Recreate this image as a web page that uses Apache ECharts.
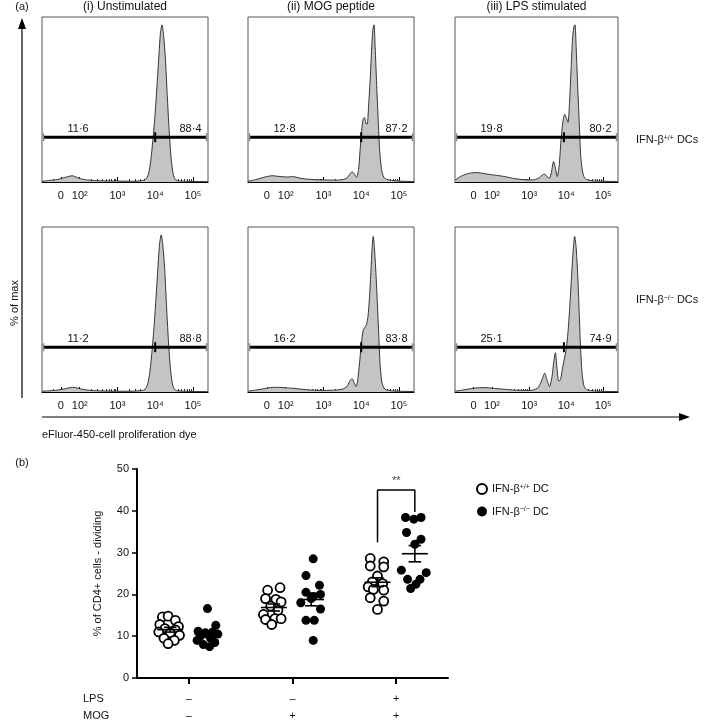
<!DOCTYPE html>
<html><head><meta charset="utf-8">
<script src="https://cdn.jsdelivr.net/npm/echarts@6/dist/echarts.min.js"></script>
<style>html,body{margin:0;padding:0;background:#fff}#c{width:709px;height:724px}</style>
</head><body><div id="c"></div>
<script>
const FONT = 'Liberation Sans, Arial, Helvetica, sans-serif';

// ---------- Panel (a): histogram data ----------
const columnTitles = ['(i) Unstimulated', '(ii) MOG peptide', '(iii) LPS stimulated'];
const histTickValues = [1.5, 2, 3, 4, 5];           // "0", 10^2 ... 10^5 on the display scale
const histTickLabels = ['0', '10²', '10³', '10⁴', '10⁵'];
const minorTickDecades = [1, 2, 3, 4];
const minorTickSteps = [2, 3, 4, 5, 6, 7, 8, 9];

const hist_unstim_wt = [[1.0,0.5],[1.2,1],[1.4,1.5],[1.55,2.5],[1.7,3.5],[1.8,4],[1.9,3.2],[2.0,2.2],[2.2,1.3],[2.4,0.9],[2.7,0.7],[3.0,0.6],[3.3,0.5],[3.6,0.7],[3.74,1.5],[3.82,5],[3.88,13],[3.94,27],[4.0,44],[4.05,62],[4.1,81],[4.14,95],[4.18,100],[4.22,94],[4.27,79],[4.32,55],[4.37,33],[4.42,16],[4.47,6],[4.52,2],[4.6,0.8],[4.8,0.5],[5.0,0.3],[5.4,0.2]];
const hist_mog_wt = [[1.0,0.5],[1.2,1.5],[1.35,2.5],[1.5,3.5],[1.65,4],[1.8,3.6],[2.0,3.2],[2.2,3.4],[2.35,2.6],[2.5,2.0],[2.7,1.6],[3.0,1.3],[3.3,1.2],[3.5,1.5],[3.62,2.5],[3.7,5],[3.76,6.5],[3.82,5],[3.88,3],[3.93,8],[3.97,20],[4.01,32],[4.05,40],[4.09,41],[4.13,37],[4.16,37],[4.2,50],[4.24,66],[4.28,86],[4.31,97],[4.34,100],[4.37,86],[4.41,62],[4.45,40],[4.49,20],[4.54,8],[4.6,3],[4.7,1.5],[4.9,0.8],[5.1,0.5],[5.4,0.3]];
const hist_lps_wt = [[1.0,1],[1.15,3.5],[1.3,5],[1.45,5.8],[1.6,6],[1.8,5.3],[2.0,4.6],[2.2,4],[2.4,3.2],[2.6,2.2],[2.8,1.6],[3.0,1.3],[3.15,1.5],[3.28,2.8],[3.36,4.5],[3.42,5],[3.48,3.5],[3.55,2.5],[3.6,6],[3.66,13],[3.71,9],[3.76,3.5],[3.81,10],[3.86,26],[3.91,38],[3.96,43],[4.0,41],[4.05,38],[4.09,50],[4.13,70],[4.17,90],[4.21,99],[4.24,100],[4.27,86],[4.31,62],[4.35,40],[4.39,18],[4.44,7],[4.5,2.5],[4.6,1.2],[4.8,0.6],[5.1,0.4],[5.4,0.3]];
const hist_unstim_ko = [[1.0,0.5],[1.2,0.8],[1.4,1.2],[1.6,2],[1.75,2.8],[1.85,3],[1.95,2.4],[2.1,1.6],[2.3,1],[2.6,0.7],[3.0,0.5],[3.3,0.5],[3.6,0.8],[3.72,1.5],[3.8,5],[3.86,13],[3.92,27],[3.98,45],[4.03,63],[4.08,82],[4.12,95],[4.16,100],[4.2,94],[4.25,79],[4.3,55],[4.35,33],[4.4,16],[4.45,6],[4.5,2],[4.58,0.8],[4.8,0.5],[5.0,0.3],[5.4,0.2]];
const hist_mog_ko = [[1.0,0.5],[1.2,1.2],[1.4,2],[1.6,2.8],[1.8,3],[2.0,2.6],[2.2,2.4],[2.4,1.8],[2.7,1.2],[3.0,1],[3.3,1.2],[3.5,1.8],[3.62,3.5],[3.7,7],[3.76,8.5],[3.82,5.5],[3.87,3.5],[3.92,10],[3.97,22],[4.02,34],[4.06,40],[4.1,41],[4.14,43],[4.18,48],[4.22,60],[4.26,78],[4.29,92],[4.32,99],[4.35,92],[4.39,76],[4.43,56],[4.47,34],[4.5,18],[4.55,6],[4.62,2],[4.72,1],[5.0,0.5],[5.4,0.3]];
const hist_lps_ko = [[1.0,0.5],[1.2,1.2],[1.4,2],[1.6,2.6],[1.8,2.8],[2.0,2.4],[2.2,2],[2.4,1.6],[2.6,1.2],[2.9,1],[3.1,1.2],[3.25,3],[3.35,8],[3.42,12],[3.48,8],[3.55,3.5],[3.62,10],[3.67,20],[3.71,25],[3.75,16],[3.8,7],[3.85,8],[3.9,15],[3.95,21],[4.0,27],[4.05,38],[4.1,55],[4.15,75],[4.19,90],[4.23,99],[4.27,92],[4.31,76],[4.35,52],[4.39,28],[4.43,12],[4.48,4],[4.55,1.5],[4.7,0.8],[5.0,0.4],[5.4,0.3]];

const gateLeftPct  = ['11·6', '12·8', '19·8', '11·2', '16·2', '25·1'];
const gateRightPct = ['88·4', '87·2', '80·2', '88·8', '83·8', '74·9'];
const gateSplit = [4.0, 4.0, 3.94, 4.0, 4.0, 3.94];
const gateLevel = [28.5, 28.5, 28.5, 28.5, 28.5, 28.5];

// ---------- Panel (b): dot plot data ----------
const conditions = [1, 2, 3];
const lpsSigns = ['–', '–', '+'];
const mogSigns = ['–', '+', '+'];
const wt_unstim = [14.6, 14.8, 13.8, 12.8, 12.3, 11.8, 11.5, 11.0, 10.8, 10.2, 9.5, 9.0, 8.2];
const wt_unstim_jit = [-0.075, -0.02, 0.05, -0.1, 0.08, -0.05, 0.05, -0.11, 0, 0.09, -0.06, 0.04, -0.02];
const ko_unstim = [16.6, 12.6, 11.2, 11.0, 10.8, 10.5, 10.0, 9.5, 9.0, 8.5, 8.0, 7.5];
const ko_unstim_jit = [0, 0.08, -0.09, 0.05, -0.02, 0.1, -0.07, 0.03, -0.1, 0.07, -0.04, 0.02];
const wt_mog = [21.0, 21.6, 19.0, 18.8, 18.2, 17.2, 16.2, 15.2, 14.2, 14.2, 14.0, 12.8];
const wt_mog_jit = [-0.06, 0.06, -0.08, 0.02, 0.07, -0.03, 0.04, -0.1, 0.01, 0.07, -0.08, -0.02];
const ko_mog = [28.5, 24.5, 22.2, 20.5, 20.0, 19.5, 19.0, 18.0, 16.5, 13.8, 13.8, 9.0];
const ko_mog_jit = [0.02, -0.05, 0.08, -0.05, 0.09, 0.02, 0, -0.1, 0.09, -0.05, 0.03, 0.02];
const wt_lps = [28.6, 27.8, 26.8, 26.6, 24.4, 23.0, 22.6, 21.8, 21.2, 21.0, 19.2, 18.4, 16.4];
const wt_lps_jit = [-0.07, 0.06, -0.07, 0.06, 0, -0.05, 0.05, -0.09, -0.04, 0.06, -0.07, 0.06, 0];
const ko_lps = [38.4, 38.0, 38.4, 34.8, 33.2, 32.0, 25.8, 25.2, 23.6, 23.6, 22.4, 21.4];
const ko_lps_jit = [-0.09, -0.01, 0.06, -0.08, 0.06, 0, -0.13, 0.11, -0.07, 0.05, 0.01, -0.04];
const sigBracketY = [32.5, 45.0, 39.7];   // left leg bottom, top, right leg bottom
const sigText = '**';

// ---------- layout ----------
const HX_MIN = 1.0, HX_MAX = 5.4;
const colLeft = [42, 248, 455], colWidth = [166, 166, 163], rowTop = [17, 227], boxH = 165;
const GROUP_OFF = 0.18;
const WT_NAME = 'IFN-β+/+ DC', KO_NAME = 'IFN-β−/− DC';

const hists = [hist_unstim_wt, hist_mog_wt, hist_lps_wt, hist_unstim_ko, hist_mog_ko, hist_lps_ko];
const minorTicks = [];
minorTickDecades.forEach(d => minorTickSteps.forEach(k => minorTicks.push(d + Math.log10(k))));

const grids = [], xAxes = [], yAxes = [], series = [];
for (let p = 0; p < 6; p++) {
  const r = Math.floor(p / 3), c = p % 3;
  grids.push({left: colLeft[c], top: rowTop[r], width: colWidth[c], height: boxH, show: true, borderColor: '#555', borderWidth: 1, backgroundColor: 'transparent'});
  xAxes.push({type: 'value', gridIndex: p, min: HX_MIN, max: HX_MAX, position: 'bottom',
    axisLine: {lineStyle: {color: '#000', width: 1.2}},
    axisTick: {customValues: histTickValues, inside: true, length: 5, lineStyle: {color: '#000', width: 1}},
    axisLabel: {customValues: histTickValues, margin: 8, fontSize: 11, fontFamily: FONT, color: '#111',
      formatter: v => { const i = histTickValues.findIndex(t => Math.abs(t - v) < 1e-6); return i >= 0 ? histTickLabels[i] : ''; }},
    splitLine: {show: false}});
  yAxes.push({type: 'value', gridIndex: p, min: 0, max: 105, show: false, splitLine: {show: false}});
}
for (let p = 0; p < 6; p++) {
  xAxes.push({type: 'value', gridIndex: p, min: HX_MIN, max: HX_MAX, position: 'bottom',
    axisLine: {show: false}, axisLabel: {show: false}, splitLine: {show: false},
    axisTick: {customValues: minorTicks, inside: true, length: 3, lineStyle: {color: '#000', width: 0.8}}});
}
for (let p = 0; p < 6; p++) {
  series.push({type: 'line', xAxisIndex: p, yAxisIndex: p, data: hists[p], showSymbol: false, smooth: 0.25,
    lineStyle: {color: '#222', width: 0.9}, areaStyle: {color: '#c4c4c4', opacity: 1}, silent: true, z: 2});
  series.push({type: 'custom', xAxisIndex: p, yAxisIndex: p, data: [[gateSplit[p], gateLevel[p]]], z: 5, clip: false,
    renderItem: (params, api) => {
      const split = api.value(0), lvl = api.value(1);
      const a = api.coord([HX_MIN, lvl]), b = api.coord([HX_MAX, lvl]), s = api.coord([split, lvl]);
      const x0 = a[0] + 1.5, x1 = b[0] - 1.5, y = a[1];
      const ts = {fontSize: 11, fontFamily: FONT, fill: '#111', verticalAlign: 'bottom'};
      return {type: 'group', children: [
        {type: 'line', shape: {x1: x0, y1: y, x2: x1, y2: y}, style: {stroke: '#000', lineWidth: 3}},
        {type: 'line', shape: {x1: x0, y1: y - 4, x2: x0, y2: y + 4}, style: {stroke: '#888', lineWidth: 1.5}},
        {type: 'line', shape: {x1: x1, y1: y - 4, x2: x1, y2: y + 4}, style: {stroke: '#888', lineWidth: 1.5}},
        {type: 'line', shape: {x1: s[0], y1: y - 5, x2: s[0], y2: y + 5}, style: {stroke: '#000', lineWidth: 2}},
        {type: 'text', x: x0 + 24, y: y - 3, style: Object.assign({text: gateLeftPct[p], align: 'left'}, ts)},
        {type: 'text', x: x1 - 5, y: y - 3, style: Object.assign({text: gateRightPct[p], align: 'right'}, ts)}
      ]};
    }});
}

// scatter grid
grids.push({left: 137, top: 469, width: 311, height: 209, show: false});
xAxes.push({type: 'value', gridIndex: 6, min: 0.5, max: 3.5, position: 'bottom',
  axisLine: {lineStyle: {color: '#000', width: 2}},
  axisTick: {customValues: conditions, length: 6, lineStyle: {color: '#000', width: 2}},
  axisLabel: {customValues: conditions, margin: 12, fontSize: 11, lineHeight: 17, fontFamily: FONT, color: '#111',
    formatter: v => { const i = conditions.indexOf(Math.round(v)); return i >= 0 ? lpsSigns[i] + '\n' + mogSigns[i] : ''; }},
  splitLine: {show: false}});
yAxes.push({type: 'value', gridIndex: 6, min: 0, max: 50, interval: 10,
  axisLine: {show: true, lineStyle: {color: '#000', width: 2}},
  axisTick: {show: true, length: 5, lineStyle: {color: '#000', width: 1.5}},
  axisLabel: {fontSize: 11, fontFamily: FONT, color: '#111', margin: 8},
  splitLine: {show: false},
  name: '% of CD4+ cells - dividing', nameLocation: 'middle', nameGap: 34,
  nameTextStyle: {fontSize: 11, fontFamily: FONT, color: '#111'}});

const wtGroups = [[wt_unstim, wt_unstim_jit], [wt_mog, wt_mog_jit], [wt_lps, wt_lps_jit]];
const koGroups = [[ko_unstim, ko_unstim_jit], [ko_mog, ko_mog_jit], [ko_lps, ko_lps_jit]];
function pts(groups, off) {
  const out = [];
  groups.forEach((g, ci) => g[0].forEach((v, j) => out.push([conditions[ci] + off + g[1][j], v])));
  return out;
}
const mean = a => a.reduce((s, v) => s + v, 0) / a.length;
const sem = a => { const m = mean(a); return Math.sqrt(a.reduce((s, v) => s + (v - m) * (v - m), 0) / (a.length - 1)) / Math.sqrt(a.length); };
const summary = [];
wtGroups.forEach((g, ci) => summary.push([conditions[ci] - GROUP_OFF, mean(g[0]), sem(g[0])]));
koGroups.forEach((g, ci) => summary.push([conditions[ci] + GROUP_OFF, mean(g[0]), sem(g[0])]));

series.push({name: WT_NAME, type: 'scatter', xAxisIndex: 12, yAxisIndex: 6, data: pts(wtGroups, -GROUP_OFF), symbol: 'circle', symbolSize: 9,
  itemStyle: {color: '#fff', borderColor: '#000', borderWidth: 1.8, opacity: 1}, z: 3});
series.push({name: KO_NAME, type: 'scatter', xAxisIndex: 12, yAxisIndex: 6, data: pts(koGroups, GROUP_OFF), symbol: 'circle', symbolSize: 9,
  itemStyle: {color: '#000', opacity: 1}, z: 3});
series.push({type: 'custom', xAxisIndex: 12, yAxisIndex: 6, data: summary, z: 6,
  renderItem: (params, api) => {
    const x = api.value(0), m = api.value(1), se = api.value(2);
    const ml = api.coord([x - 0.125, m]), mr = api.coord([x + 0.125, m]);
    const t = api.coord([x, m + se]), b = api.coord([x, m - se]);
    const cl = api.coord([x - 0.06, m]), cr = api.coord([x + 0.06, m]);
    const st = {stroke: '#000', lineWidth: 1.6};
    return {type: 'group', children: [
      {type: 'line', shape: {x1: ml[0], y1: ml[1], x2: mr[0], y2: mr[1]}, style: st},
      {type: 'line', shape: {x1: t[0], y1: t[1], x2: b[0], y2: b[1]}, style: st},
      {type: 'line', shape: {x1: cl[0], y1: t[1], x2: cr[0], y2: t[1]}, style: st},
      {type: 'line', shape: {x1: cl[0], y1: b[1], x2: cr[0], y2: b[1]}, style: st}
    ]};
  }});
const bx0 = conditions[2] - GROUP_OFF, bx1 = conditions[2] + GROUP_OFF;
series.push({type: 'line', xAxisIndex: 12, yAxisIndex: 6, showSymbol: false, symbol: 'none', z: 4,
  data: [[bx0, sigBracketY[0]], [bx0, sigBracketY[1]], [bx1, sigBracketY[1]], [bx1, sigBracketY[2]]],
  lineStyle: {color: '#000', width: 1.5}});
series.push({type: 'scatter', xAxisIndex: 12, yAxisIndex: 6, symbolSize: 1, itemStyle: {color: 'transparent'},
  data: [[(bx0 + bx1) / 2, sigBracketY[1]]],
  label: {show: true, position: 'top', distance: 3, formatter: sigText, fontSize: 11, fontFamily: FONT, color: '#111'}});

const supRich = {sup: {fontSize: 7, fontFamily: FONT, verticalAlign: 'top', color: '#111'}};
const tx = (x, y, text, extra) => ({type: 'text', x, y, style: Object.assign({text, fontSize: 11, fontFamily: FONT, fill: '#111', align: 'left', verticalAlign: 'middle'}, extra || {})});

const graphic = [
  tx(22, 7, '(a)', {align: 'center'}),
  tx(colLeft[0] + colWidth[0] / 2, 7, columnTitles[0], {align: 'center', fontSize: 12}),
  tx(colLeft[1] + colWidth[1] / 2, 7, columnTitles[1], {align: 'center', fontSize: 12}),
  tx(colLeft[2] + colWidth[2] / 2, 7, columnTitles[2], {align: 'center', fontSize: 12}),
  tx(636, 140, 'IFN-β{sup|+/+} DCs', {rich: supRich}),
  tx(636, 300, 'IFN-β{sup|−/−} DCs', {rich: supRich}),
  {type: 'text', x: 15, y: 303, rotation: Math.PI / 2, style: {text: '% of max', fontSize: 11, fontFamily: FONT, fill: '#111', align: 'center', verticalAlign: 'middle'}},
  {type: 'line', shape: {x1: 22, y1: 398, x2: 22, y2: 26}, style: {stroke: '#000', lineWidth: 1.2}},
  {type: 'polygon', shape: {points: [[22, 18], [18, 29], [26, 29]]}, style: {fill: '#000'}},
  {type: 'line', shape: {x1: 42, y1: 417, x2: 682, y2: 417}, style: {stroke: '#000', lineWidth: 1.2}},
  {type: 'polygon', shape: {points: [[690, 417], [679, 413], [679, 421]]}, style: {fill: '#000'}},
  tx(42, 435, 'eFluor-450-cell proliferation dye'),
  tx(22, 463, '(b)', {align: 'center'}),
  tx(83, 699, 'LPS'),
  tx(83, 716, 'MOG')
];

const chart = echarts.init(document.getElementById('c'), null, {renderer: 'canvas'});
chart.setOption({
  animation: false,
  backgroundColor: '#fff',
  textStyle: {fontFamily: FONT},
  grid: grids, xAxis: xAxes, yAxis: yAxes, series,
  legend: {orient: 'vertical', left: 471, top: 478, itemWidth: 10, itemHeight: 10, itemGap: 11, icon: 'circle',
    data: [{name: WT_NAME, itemStyle: {color: '#fff', borderColor: '#000', borderWidth: 2}}, {name: KO_NAME, itemStyle: {color: '#000'}}],
    textStyle: {fontSize: 11, fontFamily: FONT, color: '#111', rich: supRich},
    formatter: n => n === WT_NAME ? 'IFN-β{sup|+/+} DC' : 'IFN-β{sup|−/−} DC'},
  graphic
});
</script></body></html>
